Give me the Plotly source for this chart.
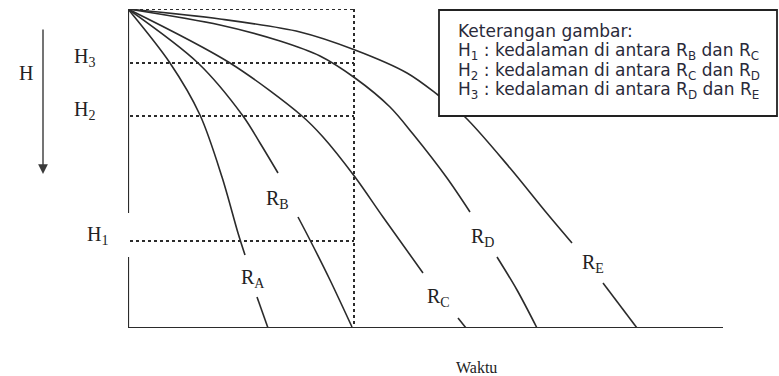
import plotly.graph_objects as go

# Kurva R_A .. R_E (x = waktu, y = kedalaman), None = celah untuk label
ra_x = [0, 42, 72, 94, 110, 117, None, 129, 140]
ra_y = [0, 54, 106, 168, 224, 246, None, 288, 319]
rb_x = [0, 70, 115, 132, 150, None, 170, 182, 202, 224]
rb_y = [0, 54, 107, 134, 164, None, 208, 231, 271, 318]
rc_x = [0, 102, 174, 195, 227, 255, 295, None, 330, 338]
rc_y = [0, 54, 107, 128, 168, 208, 264, None, 309, 319]
rd_x = [0, 92, 152, 192, 227, 262, 285, 319, 342, None, 369, 389, 409]
rd_y = [0, 16, 32, 47, 69, 98, 125, 169, 203, None, 248, 281, 319]
re_x = [0, 92, 172, 227, 279, 310, 337, 382, 417, 444, None, 475, 509]
re_y = [0, 10, 23, 41, 64, 86, 108, 159, 202, 234, None, 274, 319]

curves = {'A': (ra_x, ra_y), 'B': (rb_x, rb_y), 'C': (rc_x, rc_y),
          'D': (rd_x, rd_y), 'E': (re_x, re_y)}

# label kurva (posisi x, y)
label_names = ['A', 'B', 'C', 'D', 'E']
label_x = [125, 149, 310, 354, 465]
label_y = [269, 190, 288, 228, 254]

# kedalaman H1, H2, H3 dan batas waktu garis putus-putus
h_names = ['H<sub>1</sub>', 'H<sub>2</sub>', 'H<sub>3</sub>']
h_depth = [232, 107, 54]
h_label_x = [-18, -31, -31]
t_limit = 226

x_max = 595
y_max = 319

legend_lines = [
    'Keterangan gambar:',
    'H<sub>1</sub> : kedalaman di antara R<sub>B</sub> dan R<sub>C</sub>',
    'H<sub>2</sub> : kedalaman di antara R<sub>C</sub> dan R<sub>D</sub>',
    'H<sub>3</sub> : kedalaman di antara R<sub>D</sub> dan R<sub>E</sub>',
]
legend_rows = [22, 42, 62, 81]

line_col = '#2b2b2b'
serif = 'Liberation Serif, Times New Roman, serif'
sans = 'DejaVu Sans, Arial, sans-serif'


# posisi di luar area plot -> koordinat paper
def px(v):
    return v / x_max


def py(v):
    return 1 - v / y_max


fig = go.Figure()

for name, (xs, ys) in curves.items():
    fig.add_trace(go.Scatter(x=xs, y=ys, mode='lines', name='R' + name,
                             line=dict(color=line_col, width=1.6, shape='spline', smoothing=0.9),
                             connectgaps=False, hoverinfo='skip'))

# garis putus-putus
dot = dict(color=line_col, width=2, dash='dot')
fig.add_shape(type='line', x0=0, x1=t_limit, y0=0, y1=0, line=dot)
fig.add_shape(type='line', x0=t_limit, x1=t_limit, y0=0, y1=y_max, line=dot)
for d in h_depth:
    fig.add_shape(type='line', x0=2, x1=t_limit, y0=d, y1=d, line=dot)

# sumbu
axis_line = dict(color=line_col, width=2.2)
fig.add_shape(type='line', x0=0, x1=x_max, y0=y_max, y1=y_max, line=axis_line)
fig.add_shape(type='line', x0=0, x1=0, y0=0, y1=204, line=axis_line)
fig.add_shape(type='line', x0=0, x1=0, y0=248, y1=y_max, line=axis_line)

# label H di kiri
for name, d, hx in zip(h_names, h_depth, h_label_x):
    fig.add_annotation(xref='paper', yref='paper', x=px(hx), y=py(d - 6), text=name,
                       showarrow=False, xanchor='right', yanchor='middle',
                       font=dict(family=serif, size=20, color='#222'))

fig.add_annotation(xref='paper', yref='paper', x=px(-102), y=py(64), text='H',
                   showarrow=False, xanchor='center', yanchor='middle',
                   font=dict(family=serif, size=20, color='#222'))
# panah H ke bawah
fig.add_annotation(xref='paper', yref='paper', x=px(-85), y=py(165), ax=0, ay=-146,
                   text='', showarrow=True, arrowhead=2, arrowsize=1.4, arrowwidth=1.4,
                   arrowcolor='#3a3a3a')

# label kurva
for n, lx, ly in zip(label_names, label_x, label_y):
    fig.add_annotation(x=lx, y=ly, text='R<sub>' + n + '</sub>', showarrow=False,
                       font=dict(family=serif, size=20, color='#222'))

fig.add_annotation(xref='paper', yref='paper', x=px(348), y=py(358), text='Waktu',
                   showarrow=False, xanchor='center', yanchor='middle',
                   font=dict(family=serif, size=16, color='#222'))

# kotak keterangan
fig.add_shape(type='rect', xref='paper', yref='paper', x0=px(311), x1=px(649),
              y0=py(1), y1=py(107), layer='above',
              fillcolor='white', line=dict(color='#222', width=1.8))
for txt, ry in zip(legend_lines, legend_rows):
    fig.add_annotation(xref='paper', yref='paper', x=px(328), y=py(ry), text=txt,
                       showarrow=False, xanchor='left', yanchor='middle', align='left',
                       font=dict(family=sans, size=17, color='#2a2a3a'))

fig.update_layout(
    width=779, height=376,
    margin=dict(l=128, r=56, t=9, b=48),
    plot_bgcolor='white', paper_bgcolor='white',
    showlegend=False,
    xaxis=dict(range=[0, x_max], visible=False),
    yaxis=dict(range=[y_max, 0], visible=False),
)

# hilangkan margin bawaan body agar posisi sama dengan gambar asli
fig.write_html("out.html", config={'displayModeBar': False},
               post_script="document.body.style.margin = '0';")
